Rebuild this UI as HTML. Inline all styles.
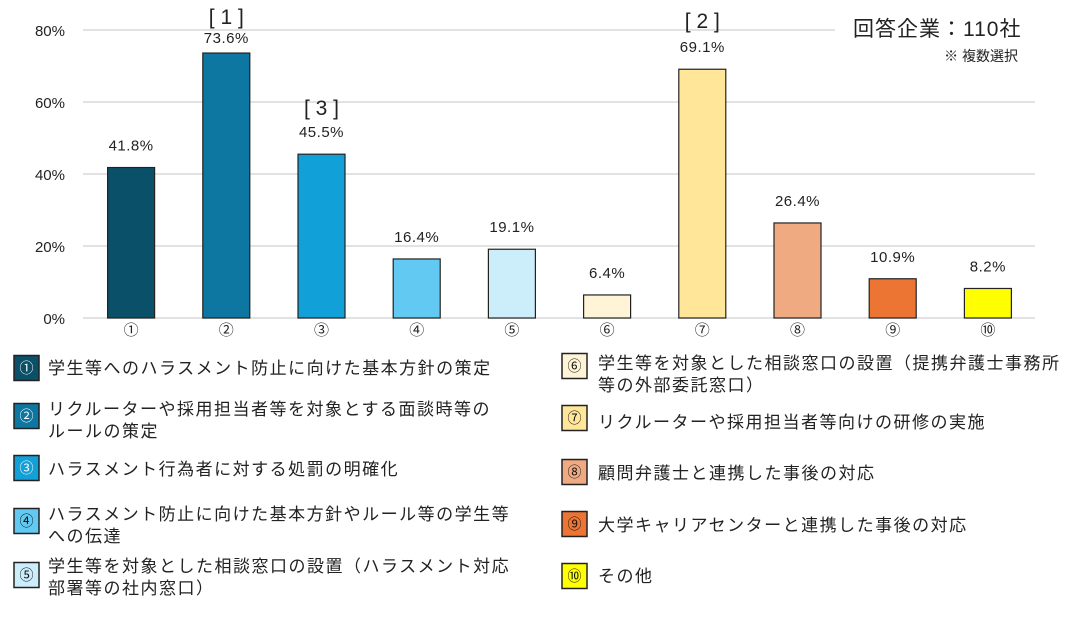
<!DOCTYPE html>
<html><head><meta charset="utf-8">
<style>
body{margin:0;background:#fff;}
svg{display:block;font-family:"Liberation Sans","Noto Sans CJK JP",sans-serif;}
.lt{font-size:17px;fill:#222;letter-spacing:1.5px;}
</style></head>
<body>
<svg id="chart" width="1069" height="629" viewBox="0 0 1069 629">
<g id="grid"></g><g id="bars"></g><g id="labels"></g>
<text x="853" y="36" font-size="21" fill="#222" letter-spacing="1">回答企業：110社</text>
<text x="1018" y="61" font-size="14" fill="#222" text-anchor="end">※ 複数選択</text>
<g id="legend"></g>
</svg>
<script>
const categories=["①","②","③","④","⑤","⑥","⑦","⑧","⑨","⑩"];
const values=[41.8,73.6,45.5,16.4,19.1,6.4,69.1,26.4,10.9,8.2];
const colors=["#0B5069","#0E77A1","#12A0D8","#62CAF2","#CCEEFB","#FFF4D5","#FFE699","#F0AA82","#EC7534","#FFFF00"];
const yTicks=[0,20,40,60,80];
const legendTexts=[
 ["学生等へのハラスメント防止に向けた基本方針の策定"],
 ["リクルーターや採用担当者等を対象とする面談時等の","ルールの策定"],
 ["ハラスメント行為者に対する処罰の明確化"],
 ["ハラスメント防止に向けた基本方針やルール等の学生等","への伝達"],
 ["学生等を対象とした相談窓口の設置（ハラスメント対応","部署等の社内窓口）"],
 ["学生等を対象とした相談窓口の設置（提携弁護士事務所","等の外部委託窓口）"],
 ["リクルーターや採用担当者等向けの研修の実施"],
 ["顧問弁護士と連携した事後の対応"],
 ["大学キャリアセンターと連携した事後の対応"],
 ["その他"]];
const NS="http://www.w3.org/2000/svg";
function mk(t,a,p,txt){const e=document.createElementNS(NS,t);for(const k in a)e.setAttribute(k,a[k]);if(txt!=null)e.textContent=txt;p.appendChild(e);return e;}
const x0=83,x1=1035,y0=318,yTop=30;
const y=v=>y0-(v/80)*(y0-yTop);
const bw=(x1-x0)/categories.length;
const xc=i=>x0+bw*(i+0.5)+0.5;
const G=document.getElementById('grid'),B=document.getElementById('bars'),L=document.getElementById('labels'),LG=document.getElementById('legend');
yTicks.forEach(t=>{
 const ln=mk('line',{x1:x0,x2:t===80?835:x1,y1:y(t),y2:y(t),stroke:'#d9d9d9','stroke-width':1.5},G);
 
 
 const tx=mk('text',{x:65,y:y(t)+6,'font-size':15,fill:'#222','text-anchor':'end'},G,t+'%');
 
 
});
values.forEach((v,i)=>{
 const cx=xc(i),w=47;
 const r=mk('rect',{x:cx-w/2,y:y(v),width:w,height:y0-y(v),fill:colors[i],stroke:'#222','stroke-width':1.2},B);
 
 
 const off=i===1?10:17;
 const t=mk('text',{x:cx,y:y(v)-off,'font-size':15,fill:'#222','text-anchor':'middle','letter-spacing':0.5},L,v.toFixed(1)+'%');
 
 
 const c=mk('text',{x:cx,y:y0+17,'font-size':15,fill:'#222','text-anchor':'middle'},L,categories[i]);
 
 
});
const rankLabels=[[1,"[ 1 ]",29],[2,"[ 3 ]",39],[6,"[ 2 ]",41]];
rankLabels.forEach(([i,s,o])=>{
 const t=mk('text',{x:xc(i),y:y(values[i])-o,'font-size':21,fill:'#222','text-anchor':'middle'},L,s);
 
 
});
const boxY=[368,416,468,521,575,366,418,472,524,576];
const textY=[[368],[409,431],[469],[514,536],[566,588],[363,385],[422],[473],[525],[576]];
legendTexts.forEach((lines,i)=>{
 const right=i>=5, bx=right?562:14, tx=right?598:48;
 const g=mk('g',{},LG);
 
 
 mk('rect',{x:bx,y:boxY[i]-12.5,width:25,height:25,fill:colors[i],stroke:'#222','stroke-width':1.5},g);
 mk('text',{x:bx+12.5,y:boxY[i]+5,'font-size':14,'text-anchor':'middle',fill:i<3?'#fff':'#111'},g,categories[i]);
 lines.forEach((s,j)=>mk('text',{x:tx,y:textY[i][j]+6,class:'lt'},g,s));
});
</script>
</body></html>
